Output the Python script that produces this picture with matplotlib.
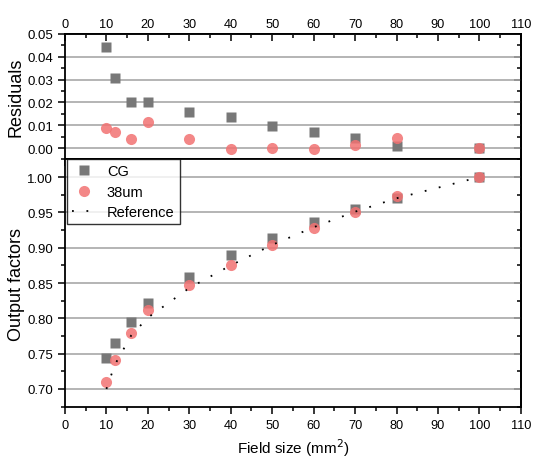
import numpy as np
import matplotlib.pyplot as plt
from matplotlib.ticker import MultipleLocator, FormatStrFormatter

# ==========================================================
# Data
# ==========================================================

field_size = [10, 12, 16, 20, 30, 40, 50, 60, 70, 80, 100]

of_cg = [0.744, 0.7646, 0.7952, 0.822, 0.8585, 0.889, 0.9137, 0.9364, 0.9552, 0.9704, 1.000]
of_38um = [0.7095, 0.7415, 0.7796, 0.812, 0.8466, 0.8755, 0.9042, 0.9283, 0.9512, 0.9731, 1.000]
of_ref = [0.700, 0.734, 0.776, 0.801, 0.843, 0.875, 0.904, 0.929, 0.951, 0.970, 1.000]

res_cg = [0.0441, 0.0307, 0.0204, 0.0204, 0.0157, 0.0137, 0.0096, 0.0069, 0.0043, 0.0010, 0.0]
res_38um = [0.0087, 0.0072, 0.0040, 0.0113, 0.0041, -0.0004, 0.0001, -0.0004, 0.0013, 0.0043, 0.0]

# ==========================================================
# Figure
# ==========================================================

plt.rcParams['font.family'] = ['Liberation Sans', 'DejaVu Sans']

fig = plt.figure(figsize=(5.37, 4.64), dpi=100)
ax_top = fig.add_axes([0.121, 0.655, 0.849, 0.2696])
ax_bot = fig.add_axes([0.121, 0.1207, 0.849, 0.5343])

grey = '#787878'
red = '#f27272'
tick_fs = 9.5

# residuals
ax_top.plot(field_size, res_cg, 's', color=grey, ms=7.5, mec='none', zorder=3)
ax_top.plot(field_size, res_38um, 'o', color=red, alpha=0.85, ms=8, mec='none', zorder=4)

# output factors
ax_bot.plot(field_size, of_cg, 's', color=grey, ms=7.5, mec='none', label='CG', zorder=3)
ax_bot.plot(field_size, of_38um, 'o', color=red, alpha=0.85, ms=8, mec='none', label='38um', zorder=4)
ax_bot.plot(field_size, of_ref, color='black', lw=1.3, dashes=(1, 7), label='Reference', zorder=5)

# ==========================================================
# Axes styling
# ==========================================================

def style_ticks(a, axis, direction, labels):
    a.tick_params(axis=axis, which='major', length=5, width=1.1, direction=direction,
                  labelsize=tick_fs)
    a.tick_params(axis=axis, which='minor', length=3, width=1.1, direction=direction)
    if not labels:
        a.tick_params(axis=axis, which='both', labelleft=False, labelright=False,
                      labeltop=False, labelbottom=False)

ylims = {ax_top: (-0.0048, 0.05), ax_bot: (0.6745, 1.0255)}
ysteps = {ax_top: (0.01, 0.005), ax_bot: (0.05, 0.025)}

for ax in (ax_top, ax_bot):
    ax.set_xlim(0, 110)
    ax.set_ylim(*ylims[ax])
    ax.xaxis.set_major_locator(MultipleLocator(10))
    ax.xaxis.set_minor_locator(MultipleLocator(5))
    ax.yaxis.set_major_locator(MultipleLocator(ysteps[ax][0]))
    ax.yaxis.set_minor_locator(MultipleLocator(ysteps[ax][1]))
    ax.yaxis.set_major_formatter(FormatStrFormatter('%.2f'))
    for s in ax.spines.values():
        s.set_linewidth(1.3)
    ax.yaxis.grid(True, which='major', color='#a8a8a8', lw=1.2, zorder=0)
    ax.set_axisbelow(True)
    style_ticks(ax, 'y', 'out', True)

    # right side: inward ticks, no labels
    sec = ax.secondary_yaxis('right')
    sec.yaxis.set_major_locator(MultipleLocator(ysteps[ax][0]))
    sec.yaxis.set_minor_locator(MultipleLocator(ysteps[ax][1]))
    sec.spines['right'].set_linewidth(1.3)
    style_ticks(sec, 'y', 'in', False)

# top panel: x labels on top, inward top ticks, downward ticks at the boundary
ax_top.tick_params(axis='x', which='both', bottom=True, top=False, labelbottom=False)
style_ticks(ax_top, 'x', 'out', False)
sec_top = ax_top.secondary_xaxis('top')
sec_top.xaxis.set_major_locator(MultipleLocator(10))
sec_top.xaxis.set_minor_locator(MultipleLocator(5))
sec_top.spines['top'].set_linewidth(1.3)
style_ticks(sec_top, 'x', 'in', True)
sec_top.tick_params(axis='x', which='both', labeltop=True, pad=3, labelsize=9.2)

# bottom panel: outward bottom ticks with labels
style_ticks(ax_bot, 'x', 'out', True)
ax_bot.tick_params(axis='x', labelsize=9.2)

ax_top.set_ylabel('Residuals', fontsize=13)
ax_top.yaxis.set_label_coords(-0.088, 0.5)
ax_bot.set_ylabel('Output factors', fontsize=13)
ax_bot.yaxis.set_label_coords(-0.088, 0.5)
ax_bot.set_xlabel('Field size (mm$^2$)', fontsize=11)

leg = ax_bot.legend(loc='upper left', fontsize=10.5, frameon=True, fancybox=False,
                    edgecolor='black', borderaxespad=0.0, handlelength=1.6,
                    borderpad=0.35, labelspacing=0.45, handletextpad=0.8,
                    bbox_to_anchor=(0.004, 1.0))
leg.get_frame().set_linewidth(1.0)

fig.savefig('out.png', dpi=100)
